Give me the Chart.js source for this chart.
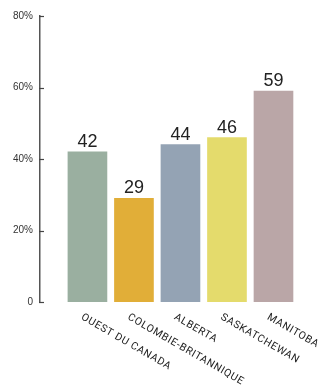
<!DOCTYPE html>
<html>
<head>
<meta charset="utf-8">
<script src="https://cdn.jsdelivr.net/npm/chart.js@4"></script>
<style>
  html, body { margin: 0; padding: 0; background: #fff; }
  #wrap { width: 320px; height: 390px; position: relative; }
</style>
</head>
<body>
<div id="wrap"><canvas id="chart"></canvas></div>
<script>
// Data
const categories = ["OUEST DU CANADA", "COLOMBIE-BRITANNIQUE", "ALBERTA", "SASKATCHEWAN", "MANITOBA"];
const values = [42, 29, 44, 46, 59];
const barColors = ["#9aafa0", "#e1ae38", "#94a3b4", "#e4db6c", "#baa6a7"];
const yTicks = [0, 20, 40, 60, 80];

// value on top of each bar
const valueLabels = {
  id: "valueLabels",
  afterDatasetsDraw(chart) {
    const ctx = chart.ctx;
    const meta = chart.getDatasetMeta(0);
    ctx.save();
    ctx.font = "18px 'Liberation Sans', Arial, sans-serif";
    ctx.fillStyle = "#222";
    ctx.textAlign = "center";
    ctx.textBaseline = "alphabetic";
    meta.data.forEach((bar, i) => {
      ctx.fillText(String(values[i]), bar.x, bar.y - 5);
    });
    ctx.restore();
  }
};

// slanted category names + small inward ticks on the y axis
const axisExtras = {
  id: "axisExtras",
  afterDraw(chart) {
    const ctx = chart.ctx;
    const area = chart.chartArea;
    const meta = chart.getDatasetMeta(0);
    const y = chart.scales.y;
    ctx.save();
    ctx.strokeStyle = "#444";
    ctx.lineWidth = 1.2;
    yTicks.forEach((t) => {
      const py = Math.round(y.getPixelForValue(t)) + 0.5;
      ctx.beginPath();
      ctx.moveTo(area.left - 1, py);
      ctx.lineTo(area.left + 4, py);
      ctx.stroke();
    });
    ctx.font = "10.5px Roboto, sans-serif";
    ctx.fillStyle = "#222";
    ctx.textAlign = "left";
    ctx.textBaseline = "top";
    if ("letterSpacing" in ctx) ctx.letterSpacing = "0.6px";
    meta.data.forEach((bar, i) => {
      ctx.save();
      ctx.translate(bar.x - 3, area.bottom + 10);
      ctx.rotate(Math.PI / 6);
      ctx.fillText(categories[i], 0, 0);
      ctx.restore();
    });
    ctx.restore();
  }
};

new Chart(document.getElementById("chart"), {
  type: "bar",
  data: {
    datasets: [{
      data: values.map((v, i) => ({ x: i, y: v })),
      backgroundColor: barColors,
      barThickness: 39,
      borderWidth: 0
    }]
  },
  options: {
    responsive: true,
    maintainAspectRatio: false,
    animation: false,
    events: [],
    layout: { padding: { top: 16, right: 0, bottom: 88, left: 13 } },
    plugins: { legend: { display: false }, tooltip: { enabled: false } },
    scales: {
      x: {
        type: "linear",
        offset: false,
        min: -1.02,
        max: 5.0,
        grid: { display: false, drawTicks: false },
        border: { display: false },
        ticks: { display: false }
      },
      y: {
        min: 0,
        max: 80,
        afterBuildTicks(scale) {
          scale.ticks = yTicks.map((v) => ({ value: v }));
        },
        afterFit(scale) {
          scale.width = 27;
        },
        grid: { display: false, drawTicks: false },
        border: { display: true, color: "#555", width: 1.5 },
        ticks: {
          padding: 7,
          color: "#333",
          font: { family: "'Liberation Sans', Arial, sans-serif", size: 10 },
          callback: (v) => (v === 0 ? "0" : v + "%")
        }
      }
    }
  },
  plugins: [valueLabels, axisExtras]
});
</script>
</body>
</html>
